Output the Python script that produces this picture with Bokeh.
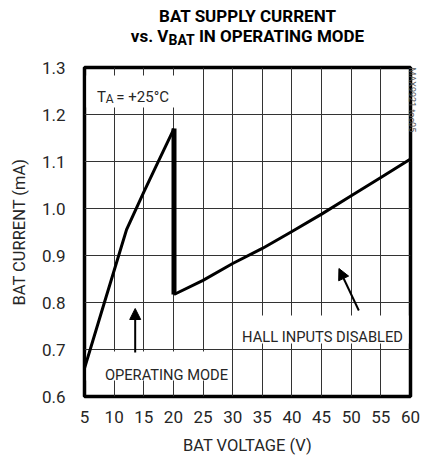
import math
from bokeh.plotting import figure
from bokeh.models import (Range1d, FixedTicker, Label, Arrow, NormalHead, Div,
                          LinearAxis)
from bokeh.layouts import column
from bokeh.embed import file_html
from bokeh.resources import INLINE

# ---- data ----
x_ticks = [5, 10, 15, 20, 25, 30, 35, 40, 45, 50, 55, 60]
x_tick_labels = ["5", "10", "15", "20", "25", "30", "35", "40", "45", "50", "55", "60"]
y_ticks = [0.6, 0.7, 0.8, 0.9, 1.0, 1.1, 1.2, 1.3]
y_tick_labels = ["0.6", "0.7", "0.8", "0.9", "1.0", "1.1", "1.2", "1.3"]

# operating mode branch (rising), V / mA
volt_oper = [5, 8, 10, 12.1, 15, 17, 20.1]
cur_oper = [0.66, 0.785, 0.868, 0.955, 1.035, 1.088, 1.17]
# hall inputs disabled branch, V / mA
volt_hall = [20.1, 25, 30, 35, 40, 45, 50, 55, 60]
cur_hall = [0.817, 0.847, 0.883, 0.915, 0.951, 0.988, 1.027, 1.066, 1.105]

X0, X1 = 5, 60
Y0, Y1 = 0.6, 1.3

# ---- layout (page pixels) ----
W = 424
TITLE_H = 46
FIG_H = 413
FL, FR, FT, FB = 84, 412, 67, 396   # frame edges on the page


def dx(px):
    return X0 + (px - FL) * (X1 - X0) / (FR - FL)


def dy(py):
    return Y1 - (py - FT) * (Y1 - Y0) / (FB - FT)


FONT = "Roboto"
TXT = "#262626"

title = Div(
    text=('<div style="display:block;box-sizing:border-box;width:424px;'
          'font-family:Roboto;font-weight:bold;'
          'font-size:17px;line-height:19.5px;color:#000;text-align:center;'
          'padding-top:7px;padding-left:71px;white-space:nowrap;">'
          'BAT SUPPLY CURRENT<br>'
          'vs. V<span style="font-size:14px;position:relative;top:3px;">BAT</span>'
          ' IN OPERATING MODE</div>'),
    width=W, height=TITLE_H, margin=(0, 0, 0, 0))

p = figure(width=W, height=FIG_H, x_range=Range1d(X0, X1), y_range=Range1d(Y0, Y1),
           output_backend="svg", toolbar_location=None,
           min_border_left=FL, min_border_right=W - FR,
           min_border_top=FT - TITLE_H, min_border_bottom=TITLE_H + FIG_H - FB,
           margin=(0, 0, 0, 0))
p.background_fill_color = "white"
p.border_fill_color = "white"
p.outline_line_color = "black"
p.outline_line_width = 3.5

for ax in (p.xaxis[0], p.yaxis[0]):
    ax.axis_line_color = None
    ax.major_tick_line_color = None
    ax.minor_tick_line_color = None
    ax.major_tick_in = 0
    ax.major_tick_out = 0
    ax.major_label_text_font = FONT
    ax.major_label_text_font_size = "17px"
    ax.major_label_text_color = TXT
    ax.axis_label_text_font = FONT
    ax.axis_label_text_font_size = "16.5px"
    ax.axis_label_text_font_style = "normal"
    ax.axis_label_text_color = TXT

p.xaxis.ticker = FixedTicker(ticks=x_ticks)
p.yaxis.ticker = FixedTicker(ticks=y_ticks)
p.xaxis.major_label_overrides = dict(zip(x_ticks, x_tick_labels))
p.yaxis.major_label_overrides = dict(zip(y_ticks, y_tick_labels))
p.xaxis.axis_label = "BAT VOLTAGE (V)"
p.yaxis.axis_label = "BAT CURRENT (mA)"
p.xaxis.major_label_standoff = 14
p.xaxis.axis_label_standoff = 10
p.yaxis.major_label_standoff = 19
p.yaxis.axis_label_standoff = 10

# right axis only carries the figure id text
rax = LinearAxis(ticker=FixedTicker(ticks=[]), axis_line_color=None,
                 major_tick_line_color=None, minor_tick_line_color=None,
                 major_tick_in=0, major_tick_out=0,
                 axis_label="MAX9921 toc05", axis_label_standoff=1,
                 axis_label_text_font=FONT, axis_label_text_font_size="9px",
                 axis_label_text_font_style="normal",
                 axis_label_text_color="#555555",
                 axis_label_orientation=-math.pi / 2)
if "axis_label_align" in rax.properties():
    rax.axis_label_align = "end"
p.add_layout(rax, "right")

p.xgrid.ticker = FixedTicker(ticks=x_ticks)
p.ygrid.ticker = FixedTicker(ticks=y_ticks)
for g in (p.xgrid[0], p.ygrid[0]):
    g.grid_line_color = "#333333"
    g.grid_line_width = 1

# white boxes behind the in-plot texts (page pixel boxes: left, right, top, bottom)
boxes = [(86, 178, 75, 107), (86, 231, 351, 380), (236, 410, 315, 343)]
p.quad(left=[dx(b[0]) for b in boxes], right=[dx(b[1]) for b in boxes],
       top=[dy(b[2]) for b in boxes], bottom=[dy(b[3]) for b in boxes],
       fill_color="white", line_color=None)

# curves
p.line(volt_oper, cur_oper, line_width=3, line_color="black", line_join="miter")
p.line(volt_hall, cur_hall, line_width=3, line_color="black", line_join="miter")
p.line([volt_oper[-1], volt_hall[0]], [cur_oper[-1], cur_hall[0]],
       line_width=5, line_color="black")


def lab(px, py, text, size, align="left", color=TXT):
    p.add_layout(Label(x=dx(px), y=dy(py), text=text, text_font=FONT,
                       text_font_size=f"{size}px", text_align=align,
                       text_baseline="alphabetic", text_color=color))


# T_A = +25°C
lab(96.5, 96, "T", 15)
lab(105.5, 98.5, "A", 12)
lab(116, 96, "= +25°C", 15)

# annotations
lab(166.5, 374, "OPERATING MODE", 14.7, align="center")
lab(323.5, 336.5, "HALL INPUTS DISABLED", 14.7, align="center")

# arrows
p.add_layout(Arrow(x_start=dx(135), y_start=dy(352), x_end=dx(135), y_end=dy(308),
                   line_width=2, line_color="black",
                   end=NormalHead(size=11, fill_color="black", line_color="black")))
p.add_layout(Arrow(x_start=dx(360), y_start=dy(310), x_end=dx(340), y_end=dy(268),
                   line_width=2, line_color="black",
                   end=NormalHead(size=11, fill_color="black", line_color="black")))

layout = column(title, p, spacing=0, margin=(0, 0, 0, 0))
open("out.html", "w").write(file_html(layout, INLINE))
